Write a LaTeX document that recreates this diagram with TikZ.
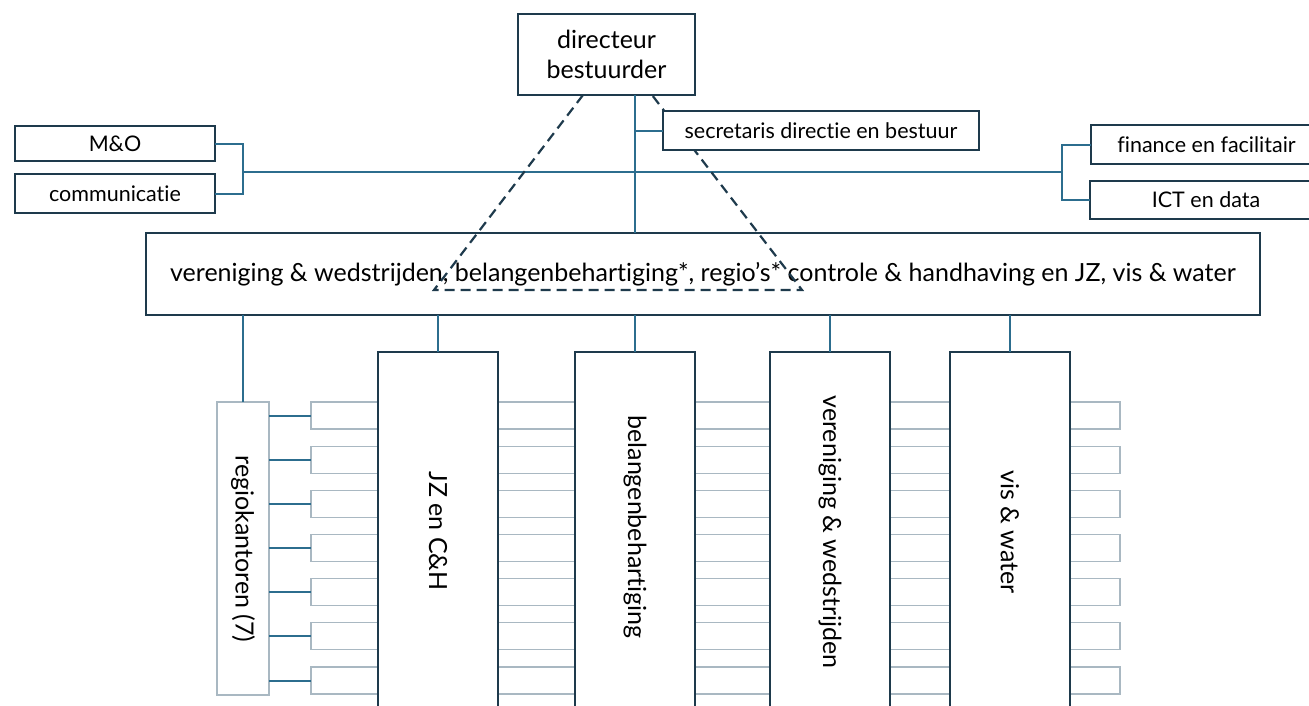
\documentclass[tikz,border=0pt]{standalone}
\usepackage{fontspec}
\setmainfont{Lato}[Ligatures=NoCommon]
\usetikzlibrary{calc}
\definecolor{navy}{HTML}{1E3A4C}
\definecolor{teal}{HTML}{2C6D8E}
\definecolor{light}{HTML}{A9B8C2}
\begin{document}
\begin{tikzpicture}[x=1pt,y=-1pt,
  bigbox/.style={draw=navy,line width=2.2pt,fill=white,inner sep=0pt,outer sep=0pt,anchor=north west,align=center},
  smallbox/.style={draw=light,line width=1.2pt,fill=white,inner sep=0pt,outer sep=0pt,anchor=north west},
  conn/.style={draw=teal,line width=2pt},
  dashln/.style={draw=navy,line width=2.2pt,dash pattern=on 10pt off 6pt},
  big/.style={font=\fontsize{25}{30}\selectfont},
  mid/.style={font=\fontsize{21.5}{24}\selectfont},
  vert/.style={font=\fontsize{25}{28}\selectfont}]
\useasboundingbox (0,0) rectangle (1309,705);
% top level boxes
\node[bigbox,big,minimum width=177pt,minimum height=81pt] (dir) at (518,14) {directeur\\bestuurder};
\node[bigbox,mid,minimum width=200pt,minimum height=35pt] (mo) at (15,126) {M\&O};
\node[bigbox,mid,minimum width=200pt,minimum height=39pt] (com) at (15,174) {communicatie};
\node[bigbox,mid,minimum width=231pt,minimum height=39pt] (fin) at (1091,125) {finance en facilitair};
\node[bigbox,mid,minimum width=232pt,minimum height=38pt] (ict) at (1090,181) {ICT en data};
% connectors top
\coordinate (lb) at (243,172);
\coordinate (rb) at (1062,172);
\draw[conn] (mo.east) -| (lb) |- (com.east);
\draw[conn] (fin.west) -| (rb) |- (ict.west);
\draw[conn] (lb) -- (rb);
\node[bigbox,big,minimum width=1114pt,minimum height=82pt] (main) at (146,233) {vereniging \& wedstrijden, belangenbehartiging*, regio’s* controle \& handhaving en JZ, vis \& water};
\coordinate (dv) at ($(dir.south west)+(117,0)$);
\draw[conn] (dv) -- (dv |- main.north);
% columns
\node[bigbox,minimum width=120pt,minimum height=360pt] (jz) at (378,352) {};
\node[bigbox,minimum width=120pt,minimum height=360pt] (bel) at (575,352) {};
\node[bigbox,minimum width=120pt,minimum height=360pt] (ver) at (770,352) {};
\node[bigbox,minimum width=120pt,minimum height=360pt] (vis) at (950,352) {};
\node[vert,rotate=-90] (jzt) at (438,531) {JZ en C\&H};
\node[vert,rotate=-90] (belt) at (635,527) {belangenbehartiging};
\node[vert,rotate=-90] (vert) at (830,532) {vereniging \& wedstrijden};
\node[vert,rotate=-90] (vist) at (1010,532) {vis \& water};
\node[smallbox,minimum width=52pt,minimum height=293pt] (reg) at (217,402) {};
\node[vert,rotate=-90] (regt) at (243,549) {regiokantoren (7)};
% small boxes
\foreach \i in {0,...,6}{
  \pgfmathsetmacro{\yy}{402+\i*44.17}
  \node[smallbox,minimum width=67pt,minimum height=27pt] (sa\i) at (311,\yy) {};
  \node[smallbox,minimum width=77pt,minimum height=27pt] (sb\i) at (498,\yy) {};
  \node[smallbox,minimum width=75pt,minimum height=27pt] (sc\i) at (695,\yy) {};
  \node[smallbox,minimum width=60pt,minimum height=27pt] (sd\i) at (890,\yy) {};
  \node[smallbox,minimum width=50pt,minimum height=27pt] (se\i) at (1070,\yy) {};
  \draw[conn] (reg.east |- sa\i.west) -- (sa\i.west);
}
% redraw column borders on top
\foreach \c in {jz,bel,ver,vis}{
  \draw[navy,line width=2.2pt] (\c.north west) rectangle (\c.south east);
}
% lower connectors
\draw[conn] (reg.north |- main.south) -- (reg.north);
\draw[conn] (jz.north) -- (jz.north |- main.south);
\draw[conn] (bel.north) -- (bel.north |- main.south);
\draw[conn] (ver.north) -- (ver.north |- main.south);
\draw[conn] (vis.north) -- (vis.north |- main.south);
% dashed triangle
\coordinate (d1) at ($(dir.south west)+(65,0)$);
\coordinate (d2) at (434,290);
\coordinate (d3) at (802,290);
\coordinate (d4) at ($(dir.south west)+(134,0)$);
\draw[dashln] (d1) -- (d2) -- (d3) -- (d4);
\node[bigbox,mid,minimum width=316pt,minimum height=39pt] (sec) at (663,111) {secretaris directie en bestuur};
\draw[conn] (dv |- sec.west) -- (sec.west);
\end{tikzpicture}
\end{document}
